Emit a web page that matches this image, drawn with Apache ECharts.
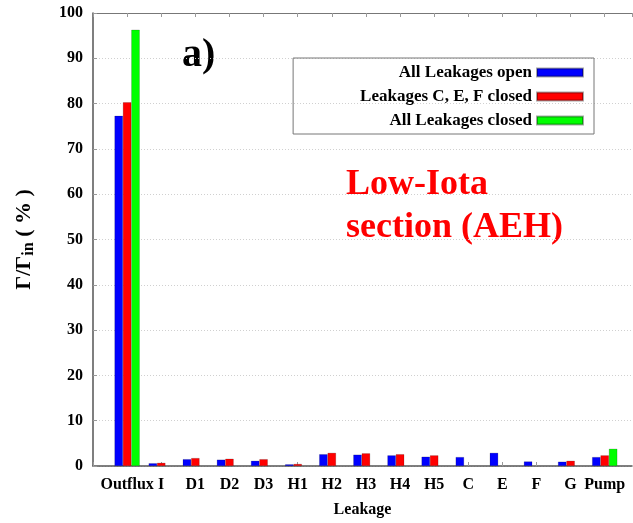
<!DOCTYPE html>
<html>
<head>
<meta charset="utf-8">
<script src="https://cdn.jsdelivr.net/npm/echarts@6/dist/echarts.min.js"></script>
<style>
html,body{margin:0;padding:0;background:#fff;}
#chart{width:633px;height:523px;}
</style>
</head>
<body>
<div id="chart"></div>
<script>
var categories = ['Outflux','I','D1','D2','D3','H1','H2','H3','H4','H5','C','E','F','G','Pump'];
var seriesNames = ['All Leakages open','Leakages C, E, F closed','All Leakages closed'];
var allOpen   = [77.3, 0.6, 1.5, 1.4, 1.15, 0.37, 2.6, 2.5, 2.35, 2.05, 1.97, 2.9, 1.0, 0.95, 1.97];
var cefClosed = [80.3, 0.7, 1.75, 1.6, 1.5, 0.45, 2.9, 2.8, 2.6, 2.35, 0, 0, 0, 1.15, 2.35];
var allClosed = [96.3, 0, 0, 0, 0, 0, 0, 0, 0, 0, 0, 0, 0, 0, 3.8];
var yTicks = [0,10,20,30,40,50,60,70,80,90,100];

var FONT = '"Liberation Serif", "Times New Roman", serif';
var colors = ['#0000ff', '#ff0000', '#00ff00'];
var values = [allOpen, cefClosed, allClosed];

function toPairs(arr){ return arr.map(function(v,i){ return [i, v]; }); }

var chart = echarts.init(document.getElementById('chart'), null, {renderer:'canvas'});
var option = {
  animation: false,
  backgroundColor: '#fff',
  grid: {left: 93, right: 1, top: 13, bottom: 54, containLabel: false},
  legend: {
    data: seriesNames,
    orient: 'vertical',
    align: 'right',
    right: 39,
    top: 58,
    padding: [6, 10, 5, 67],
    itemGap: 7,
    itemWidth: 46,
    itemHeight: 8,
    icon: 'rect',
    borderColor: '#777',
    borderWidth: 1,
    textStyle: {fontFamily: FONT, fontWeight: 'bold', fontSize: 17, color: '#000'}
  },
  xAxis: [{
    type: 'value',
    position: 'bottom',
    min: -1,
    max: 14.8,
    interval: 1,
    name: 'Leakage',
    nameLocation: 'middle',
    nameGap: 36,
    nameTextStyle: {fontFamily: FONT, fontWeight: 'bold', fontSize: 16, color: '#000'},
    axisLine: {show: true, onZero: false, lineStyle: {color: '#555', width: 1.5}},
    axisTick: {show: true, inside: true, length: 4, lineStyle: {color: '#999'}},
    splitLine: {show: false},
    axisLabel: {
      fontFamily: FONT, fontWeight: 'bold', fontSize: 16, color: '#000', margin: 11,
      showMinLabel: true, showMaxLabel: false,
      formatter: function(v){ return (Math.abs(v - Math.round(v)) < 1e-6 && categories[Math.round(v)]) ? categories[Math.round(v)] : ''; }
    }
  }, {
    type: 'value',
    position: 'top',
    min: -1,
    max: 14.8,
    interval: 1,
    axisLine: {show: true, onZero: false, lineStyle: {color: '#777', width: 1.2}},
    axisTick: {show: true, inside: true, length: 4, lineStyle: {color: '#999'}},
    splitLine: {show: false},
    axisLabel: {show: false}
  }],
  yAxis: {
    type: 'value',
    min: yTicks[0],
    max: yTicks[yTicks.length-1],
    interval: 10,
    name: 'Γ/Γ{sub|in} ( % )',
    nameLocation: 'middle',
    nameRotate: 90,
    nameGap: 56,
    nameTextStyle: {
      fontFamily: FONT, fontWeight: 'bold', fontSize: 22, color: '#000',
      rich: {sub: {fontFamily: FONT, fontWeight: 'bold', fontSize: 16, color: '#000', padding: [10, 0, 0, 0]}}
    },
    axisLine: {show: true, onZero: false, lineStyle: {color: '#555', width: 1.5}},
    axisTick: {show: true, inside: true, length: 4, lineStyle: {color: '#999'}},
    splitLine: {show: true, lineStyle: {color: '#d0d0d0', type: [1, 2], width: 1}},
    axisLabel: {fontFamily: FONT, fontWeight: 'bold', fontSize: 16, color: '#000', margin: 10}
  },
  series: seriesNames.map(function(name, k){
    return {
      name: name,
      type: 'bar',
      xAxisIndex: 0,
      barWidth: 8.4,
      barGap: '0%',
      itemStyle: {color: colors[k], borderColor: 'rgba(0,0,0,0.35)', borderWidth: 0.5},
      data: toPairs(values[k]).map(function(p){ return p[1] === 0 ? [p[0], null] : p; })
    };
  }),
  graphic: [
    {type: 'text', left: 182, top: 36, style: {text: 'a)', fontFamily: FONT, fontWeight: 'bold', fontSize: 40, fill: '#000'}},
    {type: 'text', left: 346, top: 163, style: {text: 'Low-Iota\nsection (AEH)', fontFamily: FONT, fontWeight: 'bold', fontSize: 36, lineHeight: 43, fill: '#ff0000'}}
  ]
};
chart.setOption(option);
</script>
</body>
</html>
